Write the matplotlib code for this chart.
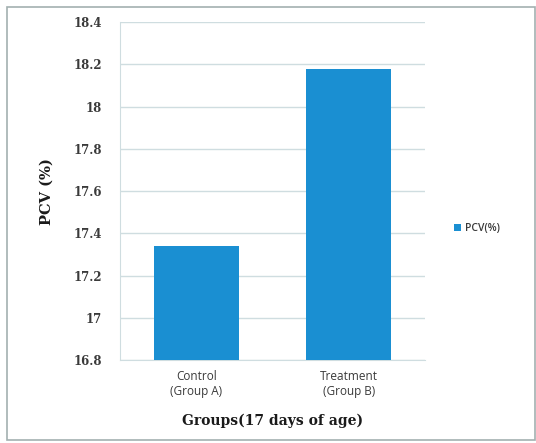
import matplotlib.pyplot as plt
from matplotlib.patches import Rectangle

groups = ["Control\n(Group A)", "Treatment\n(Group B)"]
pcv = [17.34, 18.18]
yticks = [16.8, 17.0, 17.2, 17.4, 17.6, 17.8, 18.0, 18.2, 18.4]
ytick_labels = ["16.8", "17", "17.2", "17.4", "17.6", "17.8", "18", "18.2", "18.4"]

bar_color = "#1a8fd2"
grid_color = "#cfdde0"
text_color = "#3a3a3a"

fig = plt.figure(figsize=(5.36, 4.43), dpi=100)
fig.patches.append(Rectangle((0.013, 0.006), 0.985, 0.978, transform=fig.transFigure,
                             fill=False, edgecolor="#a3b0b0", linewidth=1.2))

ax = fig.add_axes([0.224, 0.187, 0.569, 0.763])
x = range(len(groups))
bars = ax.bar(x, pcv, width=0.56, color=bar_color, label="PCV(%)", zorder=3)

ax.set_xlim(-0.5, 1.5)
ax.set_ylim(16.8, 18.4)
ax.set_yticks(yticks)
ax.set_yticklabels(ytick_labels, family="DejaVu Serif", fontweight="bold",
                   fontsize=8.5, color=text_color)
ax.set_xticks(list(x))
ax.set_xticklabels(groups, family="Open Sans", fontsize=8.5, color=text_color,
                   linespacing=1.2)
ax.tick_params(axis="both", length=0)
ax.tick_params(axis="y", pad=13)
ax.tick_params(axis="x", pad=7)

ax.yaxis.grid(True, color=grid_color, linewidth=1.0, zorder=0)
for side in ["top", "right"]:
    ax.spines[side].set_visible(False)
ax.spines["left"].set_color(grid_color)
ax.spines["bottom"].set_color(grid_color)

ax.set_xlabel("Groups(17 days of age)", family="DejaVu Serif", fontweight="bold",
              fontsize=10, color="#1a1a1a", labelpad=11)
ax.set_ylabel("PCV (%)", family="DejaVu Serif", fontweight="bold",
              fontsize=10.5, color="#1a1a1a", labelpad=14)

leg = fig.legend(handles=[bars], labels=["PCV(%)"], loc="center left",
                 bbox_to_anchor=(0.83, 0.484), frameon=False,
                 prop={"family": "Open Sans", "size": 7.5, "weight": "semibold"},
                 handlelength=0.6, handleheight=0.6, handletextpad=0.4)
for t in leg.get_texts():
    t.set_color(text_color)

fig.savefig("out.png", dpi=100)
